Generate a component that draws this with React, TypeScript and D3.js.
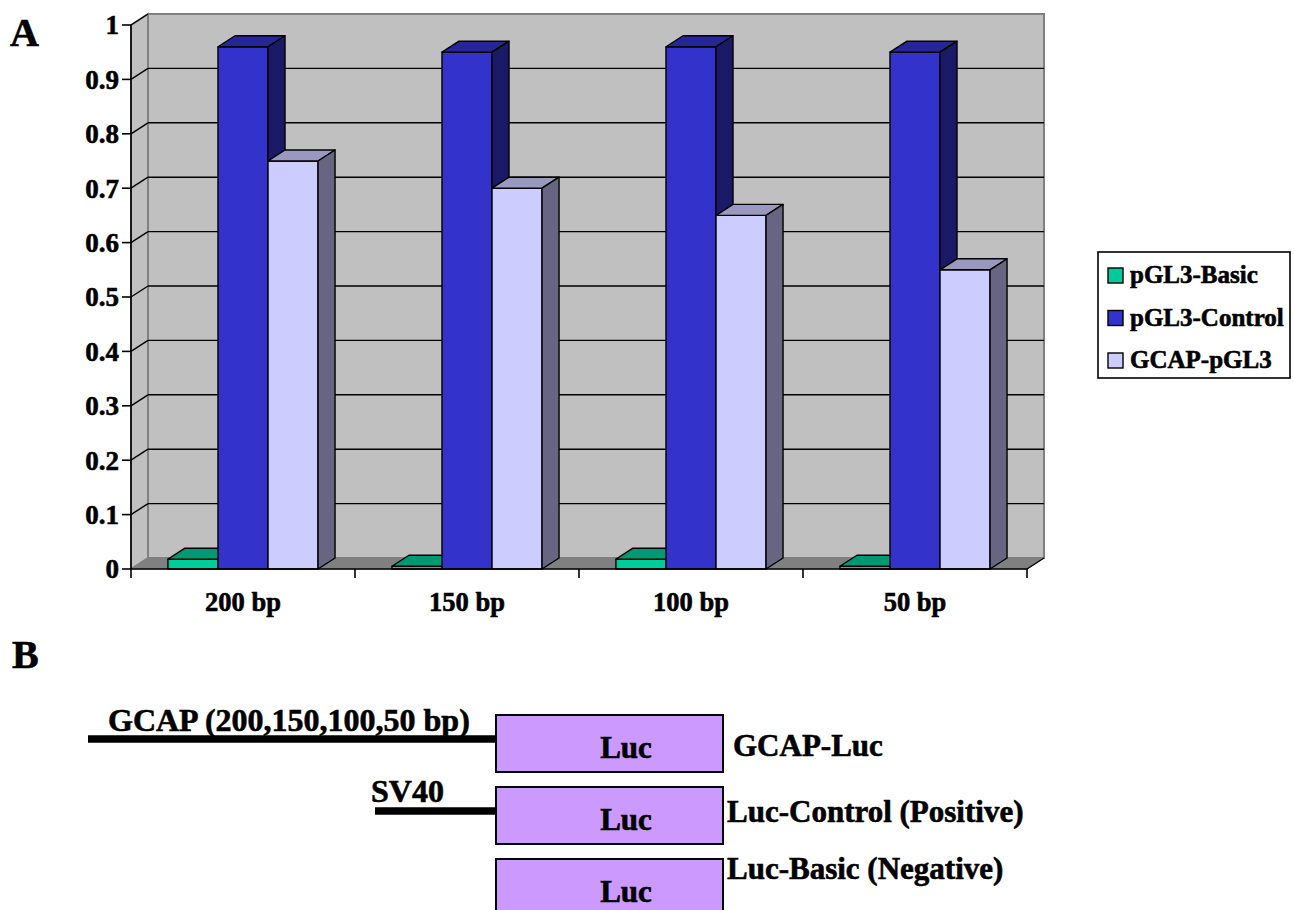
import React from "react";
import * as d3 from "d3";

const categories = ["200 bp", "150 bp", "100 bp", "50 bp"];
const seriesNames = ["pGL3-Basic", "pGL3-Control", "GCAP-pGL3"];
const basicValues = [0.018, 0.005, 0.018, 0.005];
const controlValues = [0.96, 0.95, 0.96, 0.95];
const gcapValues = [0.75, 0.70, 0.65, 0.55];
const yTicks = [0, 0.1, 0.2, 0.3, 0.4, 0.5, 0.6, 0.7, 0.8, 0.9, 1];
const yTickLabels = ["0", "0.1", "0.2", "0.3", "0.4", "0.5", "0.6", "0.7", "0.8", "0.9", "1"];

const constructs = [
  { label: "GCAP-Luc", promoter: "GCAP (200,150,100,50 bp)" },
  { label: "Luc-Control (Positive)", promoter: "SV40" },
  { label: "Luc-Basic (Negative)", promoter: "" },
];

const colors = {
  front: ["#00CC99", "#3333CC", "#CCCCFF"],
  top: ["#009973", "#262699", "#9999C0"],
  side: ["#006650", "#1A1A66", "#666680"],
};

const FONT = "'Liberation Serif', 'Times New Roman', Times, serif";

export default function App() {
  const x0 = 131, x1 = 1027, yBase = 569, yTop = 25;
  const DX = 17, DY = -11;
  const x = d3.scaleBand<string>().domain(categories).range([x0, x1]).paddingInner(0.33).paddingOuter(0.165);
  const xs = d3.scaleBand<string>().domain(seriesNames).range([0, x.bandwidth()]);
  const y = d3.scaleLinear().domain([0, 1]).range([yBase, yTop]);
  const values = [basicValues, controlValues, gcapValues];
  const step = x.step();
  const boundaries = d3.range(categories.length + 1).map((i) => x0 + i * step);

  const pts = (a: number[][]) => a.map((p) => p.join(",")).join(" ");
  const ts = { stroke: "#000", strokeWidth: 0.6 };

  return (
    <svg width={1294} height={910} style={{ position: "absolute", left: 0, top: 0, background: "#fff" }} fontFamily={FONT} fontWeight="bold">
      {/* walls */}
      <polygon points={pts([[x0, y(1)], [x0 + DX, y(1) + DY], [x0 + DX, yBase + DY], [x0, yBase]])} fill="#C0C0C0" stroke="#808080" strokeWidth={2} />
      <rect x={x0 + DX} y={y(1) + DY} width={x1 - x0} height={yBase - y(1)} fill="#C0C0C0" stroke="#808080" strokeWidth={2} />
      {/* gridlines */}
      {yTicks.slice(1).map((t) => (
        <g key={t}>
          <line x1={x0} y1={y(t)} x2={x0 + DX} y2={y(t) + DY} stroke="#000" strokeWidth={1.4} />
          {t < 1 && <line x1={x0 + DX} y1={y(t) + DY} x2={x1 + DX} y2={y(t) + DY} stroke="#000" strokeWidth={1.4} />}
        </g>
      ))}
      {/* floor */}
      <polygon points={pts([[x0, yBase], [x0 + DX, yBase + DY], [x1 + DX, yBase + DY], [x1, yBase]])} fill="#808080" stroke="#808080" strokeWidth={1} />
      <line x1={x1} y1={yBase} x2={x1 + DX} y2={yBase + DY} stroke="#000" strokeWidth={1.4} />
      {/* bars */}
      {categories.map((c, ci) => (
        <g key={c}>
          {seriesNames.map((s, si) => {
            const bx = (x(c) as number) + (xs(s) as number);
            const w = xs.bandwidth();
            const v = values[si][ci];
            const by = y(v);
            return (
              <g key={s} stroke="#000" strokeWidth={1.4} strokeLinejoin="round">
                <rect x={bx} y={by} width={w} height={yBase - by} fill={colors.front[si]} />
                <polygon points={pts([[bx, by], [bx + DX, by + DY], [bx + w + DX, by + DY], [bx + w, by]])} fill={colors.top[si]} />
                <polygon points={pts([[bx + w, by], [bx + w + DX, by + DY], [bx + w + DX, yBase + DY], [bx + w, yBase]])} fill={colors.side[si]} />
              </g>
            );
          })}
        </g>
      ))}
      {/* axes */}
      <line x1={x0} y1={y(1)} x2={x0} y2={yBase} stroke="#000" strokeWidth={1.6} />
      <line x1={x0} y1={yBase} x2={x1} y2={yBase} stroke="#000" strokeWidth={1.6} />
      {yTicks.map((t, i) => (
        <g key={t}>
          <line x1={x0 - 9} y1={y(t)} x2={x0} y2={y(t)} stroke="#000" strokeWidth={1.6} />
          <text x={119} y={y(t)} dy="0.35em" textAnchor="end" fontSize={27} {...ts}>{yTickLabels[i]}</text>
        </g>
      ))}
      {boundaries.map((b) => (
        <line key={b} x1={b} y1={yBase} x2={b} y2={yBase + 9} stroke="#000" strokeWidth={1.6} />
      ))}
      {categories.map((c) => (
        <text key={c} x={(x(c) as number) + x.bandwidth() / 2} y={611} textAnchor="middle" fontSize={26.5} {...ts}>{c}</text>
      ))}
      {/* legend */}
      <rect x={1098} y={252} width={192} height={126} fill="#fff" stroke="#000" strokeWidth={1.6} />
      {seriesNames.map((s, i) => (
        <g key={s}>
          <rect x={1108} y={268 + i * 42.5} width={15} height={15} fill={colors.front[i]} stroke="#000" strokeWidth={1.4} />
          <text x={1130} y={283 + i * 42.5} fontSize={25} {...ts}>{s}</text>
        </g>
      ))}
      <text x={10} y={46} fontSize={40} {...ts}>A</text>

      {/* Panel B */}
      <text x={12} y={668} fontSize={40} {...ts}>B</text>
      <line x1={88} y1={739} x2={497} y2={739} stroke="#000" strokeWidth={7.5} />
      <text x={108} y={731} fontSize={32} {...ts}>{constructs[0].promoter}</text>
      <line x1={375} y1={811} x2={497} y2={811} stroke="#000" strokeWidth={7.5} />
      <text x={371} y={802} fontSize={32} {...ts}>{constructs[1].promoter}</text>
      {constructs.map((c, i) => (
        <g key={c.label}>
          <rect x={496} y={715 + i * 72} width={227} height={57} fill="#CC99FF" stroke="#000" strokeWidth={2} />
          <text x={626} y={758 + i * 72} textAnchor="middle" fontSize={31} {...ts}>Luc</text>
        </g>
      ))}
      <text x={733} y={756} fontSize={31} {...ts}>{constructs[0].label}</text>
      <text x={727} y={822} fontSize={31} {...ts}>{constructs[1].label}</text>
      <text x={727} y={879} fontSize={31} {...ts}>{constructs[2].label}</text>
    </svg>
  );
}
